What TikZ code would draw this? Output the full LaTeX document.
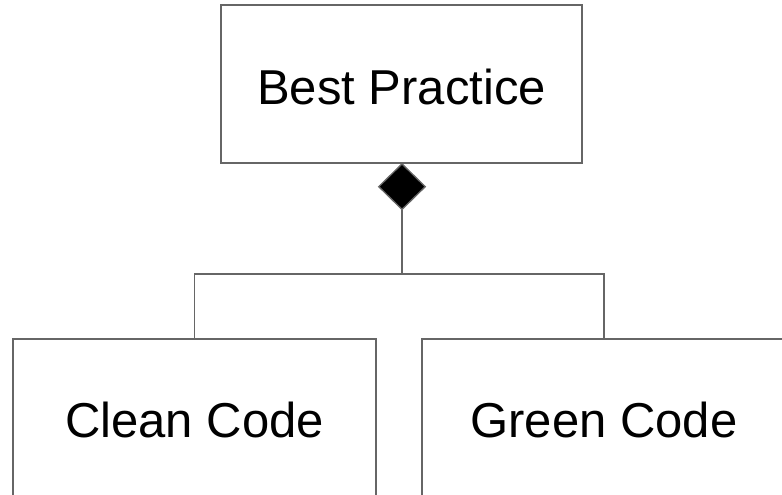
\documentclass[tikz,border=0pt]{standalone}
\usepackage{fontspec}
\setmainfont{Liberation Sans}
\usetikzlibrary{shapes.geometric}
\definecolor{edgegray}{HTML}{666666}
\tikzset{
  classbox/.style={draw=edgegray, line width=1pt, rectangle, inner sep=0pt, font=\fontsize{36.75pt}{44pt}\selectfont, text=black, text height=31.5pt, text depth=0pt},
  cutbox/.style={classbox, text depth=20.25pt},
  link/.style={draw=edgegray, line width=1pt},
  compo/.style={diamond, draw=edgegray, fill=black, line width=1pt, inner sep=0pt, minimum width=47*0.75pt, minimum height=46*0.75pt}
}
\begin{document}
\begin{tikzpicture}[x=0.75pt, y=-0.75pt]
\useasboundingbox (0,0) rectangle (782,495);
\clip (0,0) rectangle (782,495);
\node[classbox, minimum width=361*0.75pt, minimum height=158*0.75pt] (bp) at (401.5,84) {Best Practice};
\node[compo, anchor=north] (dia) at (402,163) {};
\node[cutbox, minimum width=363*0.75pt, minimum height=181*0.75pt] (cc) at (194.5,429.5) {Clean Code};
\node[cutbox, minimum width=364*0.75pt, minimum height=181*0.75pt] (gc) at (604,429.5) {Green Code};
\coordinate (bar) at (402,274);
\draw[link] (dia.south) -- (bar);
\draw[link] (bar) -| (cc.north);
\draw[link] (bar) -| (gc.north);
\end{tikzpicture}
\end{document}
